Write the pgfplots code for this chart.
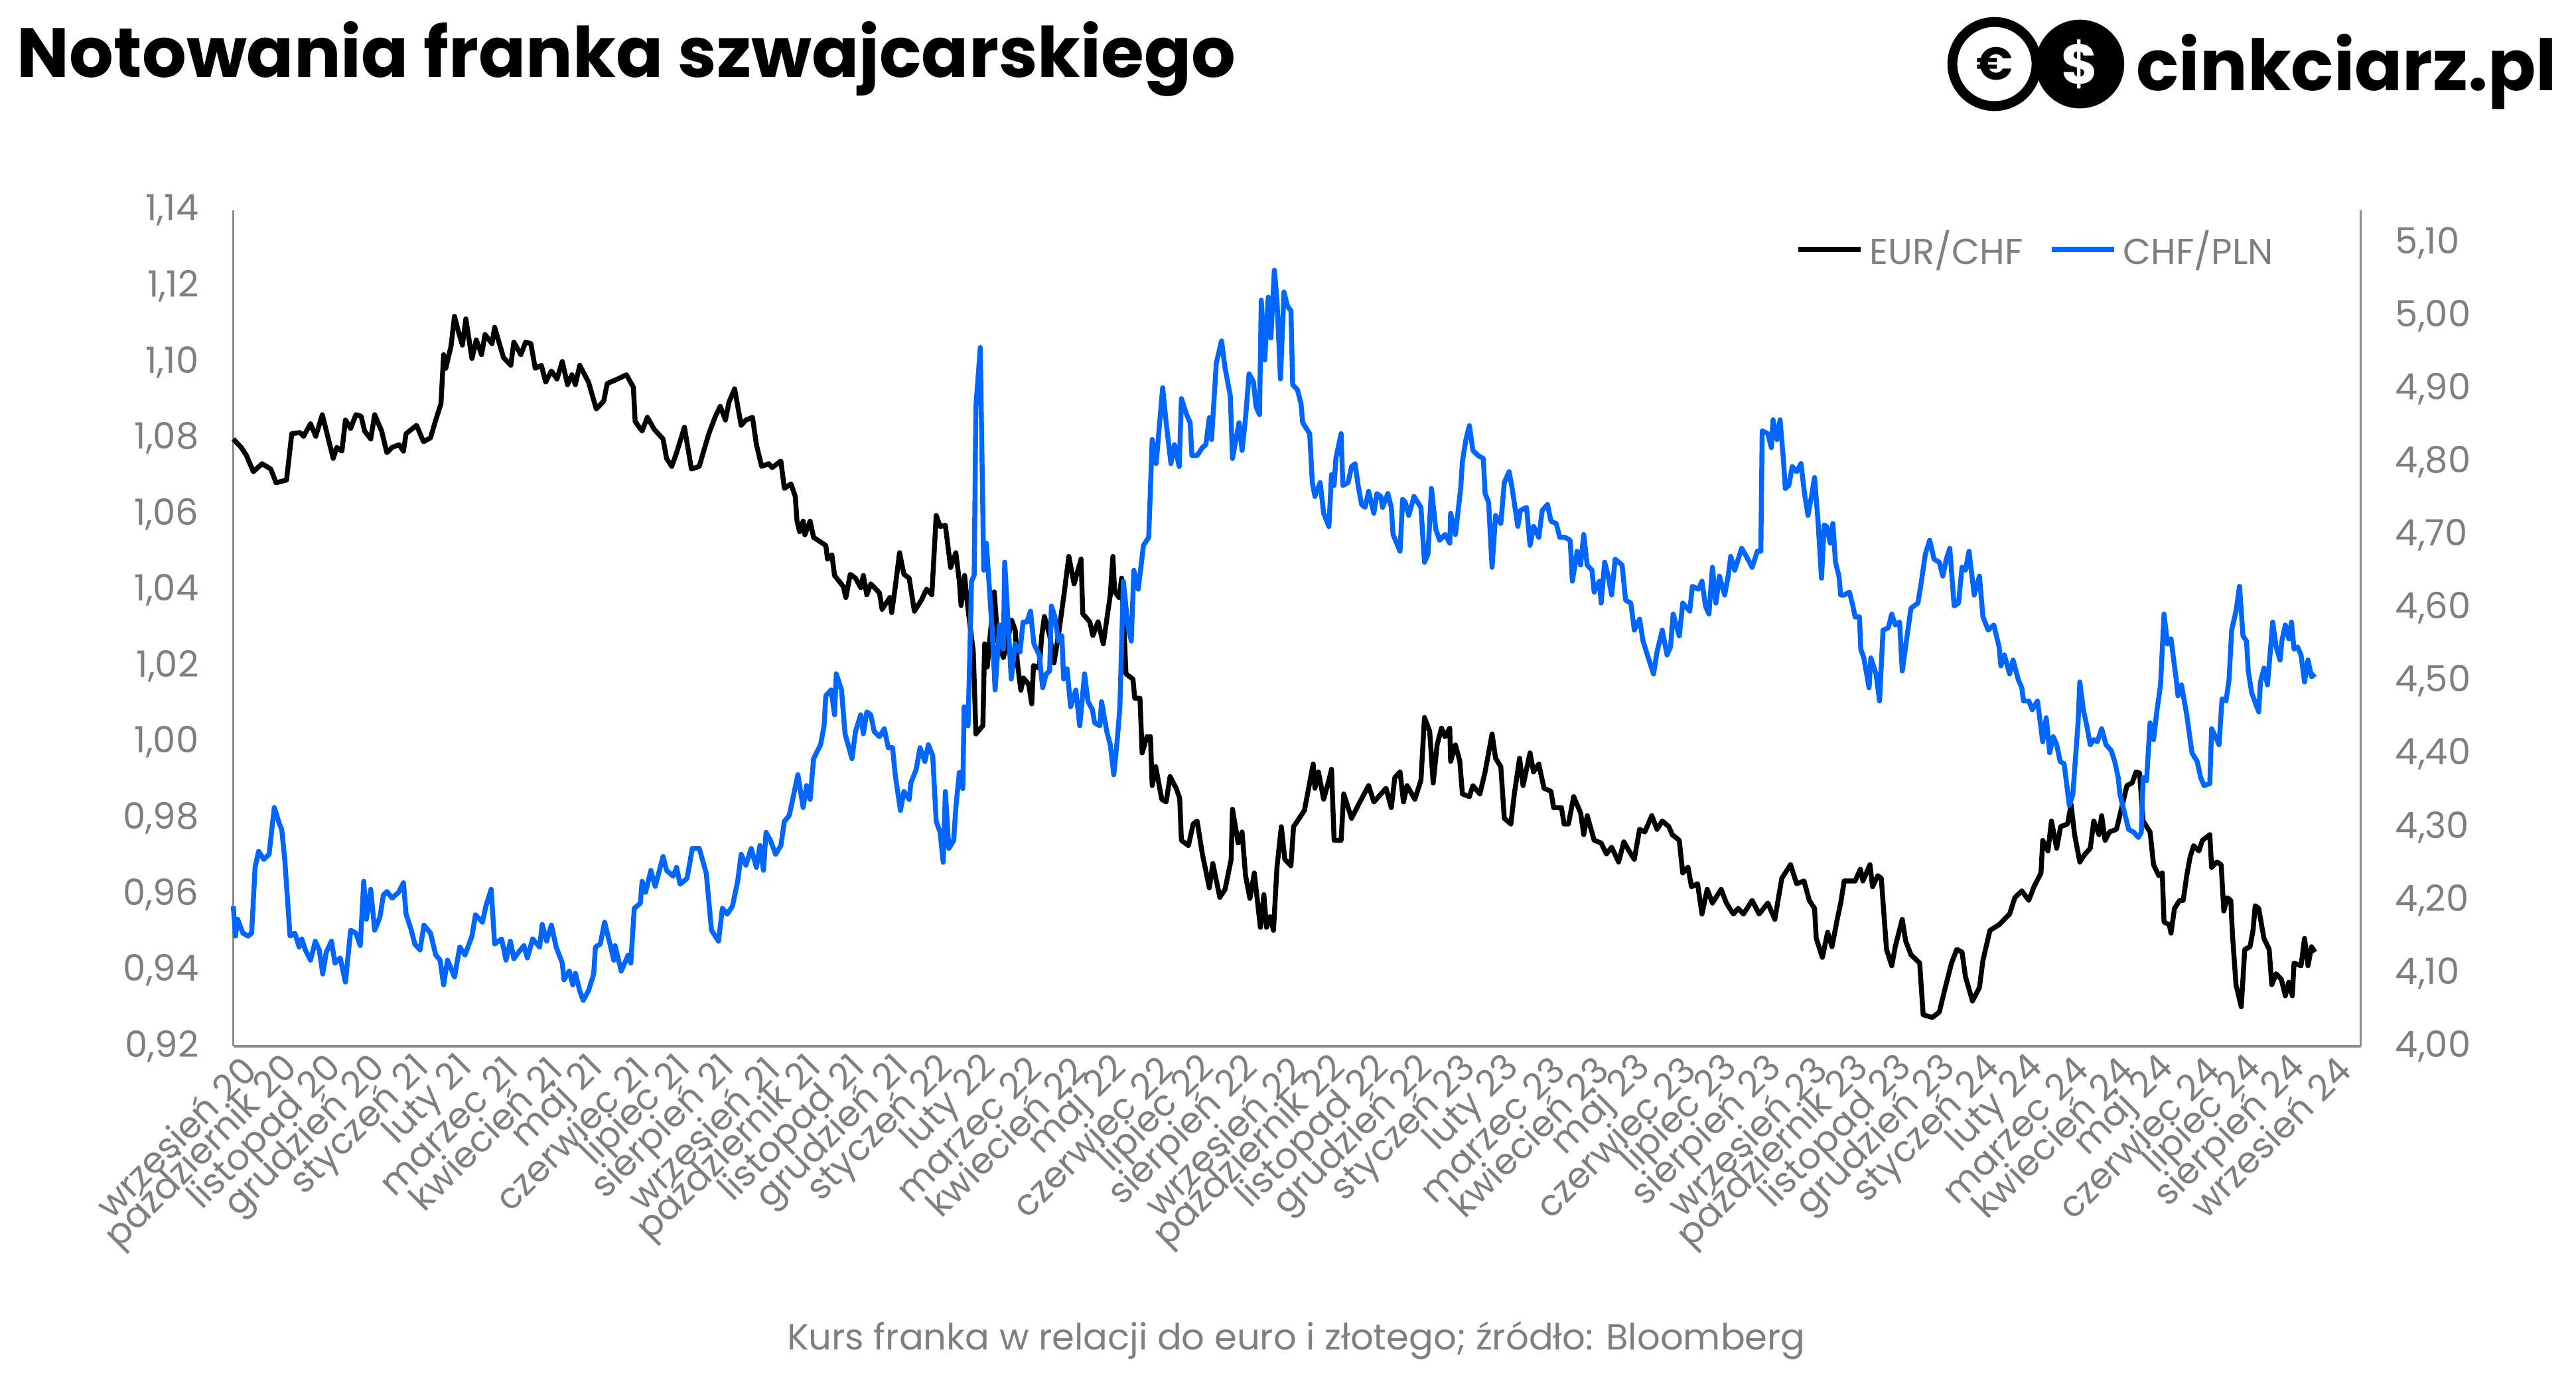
\documentclass[border=0pt]{standalone}
\usepackage{fontspec}
\setmainfont{Poppins}
\usepackage{pgfplots}
\usepackage{pgfplotstable}
\pgfplotsset{compat=1.18}
\definecolor{tickgray}{HTML}{7F7F7F}
\definecolor{axgray}{HTML}{8C8C8C}
\definecolor{chfblue}{HTML}{0066FF}

\pgfplotstableread{
x y
0 1.0798
0.18 1.0776
0.30 1.0755
0.46 1.0712
0.66 1.0733
0.86 1.0719
0.98 1.0683
1.22 1.0690
1.34 1.0812
1.53 1.0815
1.61 1.0805
1.77 1.0838
1.89 1.0805
2.04 1.0862
2.29 1.0747
2.37 1.0776
2.49 1.0766
2.57 1.0848
2.69 1.0826
2.81 1.0862
2.93 1.0858
3.01 1.0819
3.15 1.0798
3.24 1.0862
3.40 1.0819
3.52 1.0762
3.64 1.0776
3.80 1.0783
3.90 1.0766
3.96 1.0812
4.20 1.0834
4.36 1.0791
4.52 1.0801
4.64 1.0848
4.76 1.0891
4.82 1.1020
4.87 1.0984
4.99 1.1042
5.07 1.1121
5.15 1.1085
5.25 1.1045
5.33 1.1114
5.47 1.1010
5.57 1.1059
5.69 1.1020
5.77 1.1073
5.93 1.1049
5.99 1.1092
6.19 1.1013
6.36 1.0992
6.43 1.1053
6.59 1.1020
6.70 1.1053
6.82 1.1049
6.92 1.0984
7.06 1.0992
7.16 1.0948
7.29 1.0977
7.42 1.0956
7.54 1.1002
7.66 1.0941
7.76 1.0967
7.84 1.0941
7.94 1.0992
8.14 1.0948
8.32 1.0877
8.49 1.0898
8.57 1.0944
8.81 1.0956
9.01 1.0967
9.17 1.0934
9.21 1.0844
9.37 1.0819
9.49 1.0855
9.65 1.0823
9.85 1.0798
9.93 1.0747
10.05 1.0726
10.16 1.0762
10.34 1.0829
10.50 1.0719
10.68 1.0726
10.78 1.0766
10.90 1.0812
11.04 1.0855
11.16 1.0884
11.28 1.0848
11.36 1.0895
11.49 1.0930
11.64 1.0834
11.75 1.0848
11.90 1.0855
11.99 1.0783
12.11 1.0726
12.27 1.0733
12.35 1.0723
12.55 1.0740
12.63 1.0668
12.78 1.0680
12.88 1.0647
12.92 1.0582
12.98 1.0554
13.06 1.0582
13.10 1.0546
13.22 1.0582
13.30 1.0539
13.58 1.0518
13.62 1.0482
13.72 1.0493
13.78 1.0439
13.98 1.0410
14.04 1.0381
14.14 1.0442
14.26 1.0432
14.38 1.0407
14.44 1.0439
14.52 1.0388
14.61 1.0417
14.81 1.0393
14.87 1.0350
15.05 1.0381
15.09 1.0341
15.17 1.0407
15.27 1.0499
15.37 1.0442
15.49 1.0432
15.61 1.0345
15.77 1.0374
15.89 1.0403
16.01 1.0388
16.11 1.0597
16.20 1.0568
16.32 1.0571
16.44 1.0460
16.56 1.0499
16.64 1.0424
16.68 1.0360
16.76 1.0439
16.83 1.0360
16.96 1.0238
17.02 1.0022
17.18 1.0044
17.22 1.0259
17.28 1.0198
17.44 1.0396
17.52 1.0266
17.65 1.0223
17.73 1.0259
17.84 1.0321
17.92 1.0295
17.97 1.0209
18.05 1.0137
18.11 1.0169
18.23 1.0152
18.30 1.0101
18.34 1.0202
18.47 1.0195
18.53 1.0281
18.59 1.0331
18.71 1.0281
18.81 1.0209
18.91 1.0281
19.03 1.0381
19.15 1.0489
19.27 1.0417
19.43 1.0482
19.47 1.0338
19.63 1.0317
19.70 1.0281
19.82 1.0317
19.94 1.0259
20.10 1.0388
20.16 1.0489
20.20 1.0396
20.30 1.0381
20.36 1.0432
20.46 1.0180
20.62 1.0166
20.66 1.0116
20.78 1.0116
20.83 0.9972
20.94 1.0015
21.02 1.0015
21.06 0.9886
21.14 0.9936
21.28 0.9850
21.38 0.9843
21.47 0.9910
21.61 0.9879
21.69 0.9853
21.73 0.9742
21.89 0.9728
22.00 0.9785
22.09 0.9793
22.21 0.9706
22.37 0.9617
22.45 0.9681
22.61 0.9592
22.73 0.9613
22.87 0.9692
22.90 0.9824
23.03 0.9735
23.12 0.9764
23.20 0.9649
23.30 0.9589
23.40 0.9656
23.54 0.9513
23.62 0.9599
23.68 0.9513
23.76 0.9541
23.84 0.9505
23.92 0.9671
24.02 0.9778
24.10 0.9692
24.24 0.9675
24.30 0.9778
24.39 0.9793
24.55 0.9821
24.75 0.9943
24.79 0.9879
24.87 0.9922
24.99 0.9850
25.11 0.9900
25.17 0.9929
25.23 0.9742
25.39 0.9742
25.45 0.9864
25.63 0.9800
25.82 0.9843
26.02 0.9886
26.14 0.9843
26.42 0.9879
26.54 0.9828
26.62 0.9907
26.74 0.9922
26.82 0.9843
26.90 0.9886
27.08 0.9850
27.22 0.9900
27.30 1.0065
27.42 1.0029
27.50 0.9893
27.59 0.9993
27.69 1.0037
27.77 1.0015
27.88 1.0037
27.90 0.9950
28.01 0.9993
28.11 0.9950
28.17 0.9864
28.33 0.9857
28.41 0.9886
28.57 0.9864
28.69 0.9922
28.85 1.0022
28.93 0.9958
29.05 0.9936
29.13 0.9800
29.28 0.9785
29.36 0.9864
29.48 0.9958
29.56 0.9886
29.72 0.9972
29.80 0.9922
29.92 0.9943
30.04 0.9879
30.20 0.9871
30.26 0.9828
30.44 0.9828
30.50 0.9785
30.60 0.9785
30.72 0.9857
30.88 0.9814
30.95 0.9757
31.03 0.9807
31.19 0.9742
31.35 0.9735
31.47 0.9706
31.59 0.9724
31.75 0.9685
31.87 0.9738
31.99 0.9714
32.11 0.9692
32.23 0.9771
32.35 0.9764
32.51 0.9807
32.63 0.9771
32.75 0.9793
32.90 0.9778
32.98 0.9757
33.14 0.9742
33.22 0.9656
33.34 0.9671
33.42 0.9620
33.56 0.9628
33.66 0.9548
33.78 0.9613
33.90 0.9577
34.10 0.9613
34.22 0.9577
34.38 0.9548
34.49 0.9563
34.61 0.9548
34.81 0.9584
34.97 0.9548
35.17 0.9577
35.33 0.9534
35.49 0.9642
35.69 0.9678
35.83 0.9628
36.00 0.9635
36.12 0.9584
36.24 0.9563
36.28 0.9484
36.42 0.9434
36.54 0.9500
36.64 0.9462
36.76 0.9534
36.84 0.9577
36.92 0.9635
37.04 0.9635
37.17 0.9635
37.29 0.9666
37.35 0.9635
37.51 0.9678
37.57 0.9620
37.69 0.9649
37.77 0.9642
37.89 0.9455
38.01 0.9412
38.09 0.9462
38.25 0.9534
38.33 0.9477
38.45 0.9441
38.65 0.9419
38.73 0.9283
38.94 0.9276
39.10 0.9290
39.22 0.9347
39.38 0.9419
39.50 0.9455
39.62 0.9448
39.70 0.9383
39.86 0.9319
40.02 0.9355
40.10 0.9426
40.26 0.9505
40.47 0.9520
40.71 0.9548
40.83 0.9591
40.99 0.9609
41.15 0.9584
41.27 0.9620
41.43 0.9656
41.47 0.9742
41.59 0.9714
41.67 0.9793
41.79 0.9721
41.88 0.9778
42.04 0.9785
42.12 0.9836
42.20 0.9757
42.32 0.9685
42.44 0.9706
42.56 0.9721
42.64 0.9793
42.76 0.9757
42.82 0.9807
42.90 0.9742
43.00 0.9764
43.16 0.9771
43.28 0.9828
43.40 0.9886
43.52 0.9893
43.61 0.9922
43.69 0.9919
43.77 0.9793
43.93 0.9764
44.01 0.9678
44.13 0.9649
44.21 0.9656
44.25 0.9527
44.37 0.9520
44.41 0.9498
44.49 0.9563
44.61 0.9584
44.69 0.9584
44.77 0.9649
44.85 0.9699
44.93 0.9728
45.05 0.9714
45.13 0.9742
45.30 0.9757
45.34 0.9671
45.46 0.9685
45.56 0.9678
45.62 0.9556
45.70 0.9591
45.78 0.9584
45.82 0.9491
45.90 0.9362
46.02 0.9304
46.10 0.9455
46.22 0.9462
46.29 0.9505
46.34 0.9570
46.42 0.9563
46.54 0.9484
46.66 0.9455
46.72 0.9362
46.82 0.9391
46.94 0.9376
47.03 0.9333
47.11 0.9369
47.19 0.9333
47.23 0.9419
47.39 0.9412
47.47 0.9484
47.55 0.9412
47.63 0.9462
47.71 0.9448
}\eurchf

\pgfplotstableread{
x y
0 4.192
0.05 4.151
0.10 4.174
0.22 4.155
0.34 4.151
0.42 4.155
0.50 4.245
0.58 4.267
0.70 4.256
0.82 4.263
0.94 4.327
1.06 4.304
1.11 4.297
1.18 4.256
1.30 4.151
1.41 4.155
1.51 4.136
1.57 4.147
1.65 4.132
1.77 4.118
1.88 4.144
1.97 4.132
2.05 4.099
2.13 4.129
2.25 4.144
2.33 4.114
2.45 4.121
2.57 4.088
2.69 4.159
2.81 4.155
2.91 4.138
2.99 4.226
3.05 4.174
3.15 4.215
3.24 4.159
3.36 4.177
3.44 4.207
3.52 4.212
3.64 4.203
3.79 4.211
3.90 4.224
3.96 4.181
4.08 4.159
4.16 4.140
4.28 4.132
4.37 4.166
4.52 4.155
4.64 4.125
4.74 4.118
4.82 4.084
4.91 4.118
5.07 4.095
5.19 4.136
5.31 4.125
5.47 4.151
5.55 4.180
5.71 4.170
5.79 4.192
5.91 4.215
5.99 4.140
6.15 4.147
6.25 4.118
6.35 4.144
6.43 4.120
6.54 4.129
6.66 4.138
6.74 4.121
6.86 4.147
7.02 4.136
7.08 4.167
7.18 4.144
7.29 4.166
7.40 4.136
7.54 4.114
7.58 4.091
7.70 4.103
7.78 4.084
7.84 4.100
7.94 4.076
8.02 4.063
8.14 4.076
8.26 4.099
8.30 4.136
8.41 4.140
8.51 4.170
8.65 4.136
8.72 4.118
8.75 4.138
8.89 4.103
9.05 4.125
9.11 4.114
9.19 4.189
9.33 4.196
9.37 4.226
9.45 4.211
9.57 4.241
9.67 4.219
9.85 4.260
9.93 4.241
10.08 4.233
10.16 4.245
10.24 4.222
10.40 4.230
10.52 4.271
10.68 4.271
10.84 4.237
10.96 4.159
11.12 4.144
11.21 4.189
11.32 4.181
11.44 4.192
11.56 4.226
11.64 4.263
11.75 4.248
11.87 4.271
11.99 4.245
12.07 4.275
12.15 4.241
12.21 4.293
12.31 4.282
12.43 4.263
12.55 4.275
12.63 4.308
12.74 4.316
12.82 4.338
12.94 4.372
13.06 4.327
13.14 4.357
13.22 4.338
13.30 4.394
13.46 4.413
13.54 4.439
13.58 4.480
13.70 4.488
13.78 4.454
13.82 4.510
13.94 4.488
14.02 4.428
14.18 4.394
14.26 4.431
14.38 4.454
14.44 4.428
14.52 4.458
14.61 4.454
14.69 4.431
14.81 4.424
14.92 4.435
15.01 4.409
15.11 4.409
15.17 4.372
15.29 4.323
15.37 4.349
15.49 4.338
15.53 4.361
15.65 4.379
15.74 4.409
15.85 4.390
15.93 4.413
16.03 4.398
16.11 4.308
16.20 4.293
16.27 4.252
16.32 4.349
16.40 4.271
16.51 4.282
16.56 4.327
16.64 4.375
16.72 4.353
16.75 4.465
16.84 4.439
16.92 4.637
16.98 4.645
17.02 4.876
17.12 4.957
17.20 4.652
17.26 4.689
17.40 4.562
17.46 4.488
17.56 4.577
17.65 4.544
17.68 4.663
17.76 4.577
17.83 4.503
17.92 4.551
18.03 4.540
18.10 4.581
18.19 4.581
18.27 4.596
18.35 4.551
18.47 4.536
18.55 4.491
18.63 4.510
18.71 4.514
18.75 4.603
18.83 4.588
18.91 4.555
18.99 4.562
19.03 4.503
19.11 4.517
19.19 4.465
19.31 4.488
19.40 4.439
19.51 4.510
19.59 4.472
19.69 4.461
19.74 4.443
19.86 4.439
19.90 4.472
20.02 4.431
20.10 4.413
20.18 4.372
20.26 4.420
20.32 4.465
20.40 4.637
20.50 4.577
20.58 4.555
20.64 4.652
20.74 4.626
20.86 4.686
20.98 4.697
21.06 4.831
21.15 4.798
21.22 4.846
21.30 4.902
21.38 4.854
21.49 4.798
21.57 4.824
21.68 4.794
21.73 4.887
21.85 4.865
21.93 4.854
21.97 4.809
22.09 4.809
22.21 4.820
22.29 4.824
22.37 4.861
22.42 4.831
22.53 4.936
22.65 4.966
22.73 4.929
22.85 4.891
22.90 4.805
23.05 4.854
23.12 4.816
23.20 4.861
23.28 4.921
23.38 4.910
23.44 4.876
23.52 4.865
23.56 5.022
23.64 4.940
23.72 5.026
23.78 4.970
23.86 5.063
23.92 5.022
24.00 4.914
24.08 5.033
24.16 5.014
24.24 5.007
24.28 4.906
24.39 4.899
24.47 4.880
24.51 4.854
24.67 4.839
24.73 4.772
24.79 4.753
24.91 4.772
24.99 4.730
25.11 4.712
25.17 4.783
25.23 4.768
25.27 4.805
25.39 4.839
25.43 4.768
25.55 4.772
25.63 4.794
25.71 4.798
25.78 4.768
25.86 4.742
25.94 4.738
26.02 4.760
26.14 4.730
26.21 4.757
26.30 4.753
26.34 4.738
26.46 4.757
26.54 4.738
26.58 4.701
26.74 4.678
26.80 4.749
26.86 4.745
26.94 4.727
27.06 4.753
27.22 4.738
27.30 4.663
27.38 4.674
27.46 4.764
27.56 4.708
27.65 4.693
27.77 4.701
27.88 4.689
27.90 4.730
28.01 4.701
28.13 4.764
28.17 4.801
28.25 4.831
28.33 4.850
28.41 4.816
28.53 4.809
28.65 4.805
28.69 4.757
28.77 4.745
28.85 4.656
28.93 4.727
29.05 4.716
29.13 4.772
29.24 4.787
29.31 4.764
29.44 4.712
29.50 4.734
29.64 4.738
29.72 4.686
29.80 4.712
29.92 4.697
30.00 4.734
30.12 4.742
30.20 4.719
30.32 4.716
30.40 4.697
30.52 4.697
30.64 4.693
30.69 4.637
30.80 4.678
30.88 4.659
30.95 4.701
31.03 4.659
31.14 4.652
31.19 4.622
31.31 4.637
31.35 4.607
31.43 4.663
31.51 4.644
31.59 4.618
31.67 4.667
31.83 4.659
31.91 4.611
32.03 4.607
32.11 4.570
32.23 4.585
32.31 4.555
32.43 4.532
32.55 4.510
32.63 4.540
32.75 4.570
32.86 4.536
32.94 4.547
33.00 4.592
33.14 4.562
33.22 4.607
33.38 4.596
33.44 4.630
33.58 4.626
33.66 4.637
33.74 4.603
33.82 4.592
33.90 4.656
33.98 4.607
34.06 4.644
34.18 4.618
34.26 4.644
34.32 4.671
34.41 4.652
34.57 4.682
34.65 4.674
34.81 4.656
34.93 4.678
35.01 4.678
35.04 4.843
35.17 4.839
35.25 4.820
35.29 4.858
35.38 4.831
35.45 4.858
35.53 4.801
35.57 4.764
35.65 4.768
35.73 4.794
35.83 4.787
35.93 4.798
36.01 4.757
36.09 4.727
36.17 4.753
36.24 4.779
36.32 4.719
36.40 4.641
36.46 4.714
36.52 4.712
36.60 4.689
36.66 4.716
36.72 4.663
36.80 4.644
36.84 4.618
36.92 4.618
37.04 4.622
37.12 4.603
37.17 4.588
37.27 4.588
37.30 4.544
37.37 4.532
37.49 4.491
37.53 4.532
37.65 4.510
37.73 4.473
37.81 4.570
37.93 4.573
38.01 4.592
38.09 4.577
38.19 4.581
38.25 4.514
38.37 4.566
38.45 4.600
38.61 4.607
38.69 4.637
38.78 4.674
38.88 4.693
38.98 4.667
39.10 4.663
39.18 4.644
39.26 4.667
39.34 4.682
39.44 4.603
39.54 4.607
39.62 4.656
39.70 4.652
39.78 4.678
39.90 4.618
40.02 4.644
40.10 4.588
40.22 4.570
40.35 4.577
40.47 4.547
40.51 4.521
40.59 4.536
40.71 4.510
40.79 4.529
40.91 4.502
40.99 4.491
41.03 4.473
41.15 4.473
41.23 4.461
41.35 4.473
41.47 4.417
41.55 4.450
41.63 4.402
41.71 4.424
41.79 4.413
41.87 4.390
41.96 4.387
42.08 4.330
42.16 4.345
42.28 4.443
42.32 4.499
42.40 4.461
42.48 4.439
42.56 4.413
42.64 4.420
42.72 4.417
42.82 4.435
42.92 4.413
43.04 4.405
43.12 4.390
43.20 4.368
43.24 4.345
43.36 4.316
43.44 4.297
43.56 4.293
43.66 4.286
43.73 4.293
43.77 4.368
43.85 4.364
43.93 4.443
44.01 4.420
44.09 4.461
44.17 4.495
44.25 4.592
44.33 4.551
44.41 4.558
44.53 4.502
44.57 4.480
44.65 4.495
44.77 4.454
44.89 4.402
45.01 4.390
45.09 4.368
45.17 4.357
45.30 4.360
45.34 4.435
45.43 4.424
45.51 4.413
45.58 4.476
45.67 4.473
45.74 4.502
45.80 4.570
45.90 4.596
45.98 4.630
46.06 4.562
46.14 4.555
46.18 4.514
46.26 4.484
46.42 4.458
46.46 4.499
46.54 4.518
46.62 4.495
46.70 4.551
46.74 4.581
46.82 4.547
46.91 4.529
46.95 4.555
47.03 4.577
47.11 4.558
47.17 4.581
47.23 4.544
47.31 4.547
47.39 4.536
47.47 4.499
47.55 4.529
47.63 4.506
47.71 4.510
}\chfpln

\begin{document}
\begin{tikzpicture}[x=1pt,y=1pt]
\path[use as bounding box] (0,0) rectangle (784,420);
% title
\node[anchor=base west, inner sep=0pt, font=\bfseries\fontsize{21.2}{24}\selectfont] at (5,396.5) {Notowania franka szwajcarskiego};
% logo
\fill[black] (633,400.5) circle (13.5);
\node[text=white, inner sep=0pt, font=\bfseries\fontsize{17}{17}\selectfont] at (633,400.5) {\$};
\draw[black, fill=white, line width=3pt] (607,400.5) circle (12.8);
\node[inner sep=0pt, font=\bfseries\fontsize{14}{14}\selectfont] at (607,400.5) {€};
\node[anchor=base west, inner sep=0pt, font=\bfseries\fontsize{21.5}{24}\selectfont] at (650,392.5) {cinkciarz.pl};
% footer
\node[text=tickgray, font=\fontsize{11}{13}\selectfont] at (394.5,12) {Kurs franka w relacji do euro i złotego; źródło: Bloomberg};

\begin{axis}[
  at={(71pt,101.5pt)}, anchor=south west,
  scale only axis, width=647.5pt, height=254.5pt,
  xmin=0, xmax=48.76, ymin=0.92, ymax=1.14,
  axis x line*=bottom, axis y line*=left,
  x axis line style={-, draw=axgray, line width=0.9pt},
  y axis line style={-, draw=axgray, line width=0.5pt},
  major tick length=0pt,
  xtick={0,1,...,48},
  xticklabels={wrzesień 20,październik 20,listopad 20,grudzień 20,styczeń 21,luty 21,marzec 21,kwiecień 21,maj 21,czerwiec 21,lipiec 21,sierpień 21,wrzesień 21,październik 21,listopad 21,grudzień 21,styczeń 22,luty 22,marzec 22,kwiecień 22,maj 22,czerwiec 22,lipiec 22,sierpień 22,wrzesień 22,październik 22,listopad 22,grudzień 22,styczeń 23,luty 23,marzec 23,kwiecień 23,maj 23,czerwiec 23,lipiec 23,sierpień 23,wrzesień 23,październik 23,listopad 23,grudzień 23,styczeń 24,luty 24,marzec 24,kwiecień 24,maj 24,czerwiec 24,lipiec 24,sierpień 24,wrzesień 24},
  xticklabel style={rotate=45, anchor=east, text=tickgray, font=\fontsize{11}{12}\selectfont, inner sep=1pt, yshift=-7pt, xshift=1pt},
  ytick={0.92,0.94,0.96,0.98,1.00,1.02,1.04,1.06,1.08,1.10,1.12,1.14},
  yticklabel style={text=tickgray, font=\fontsize{11}{12}\selectfont, xshift=-7pt,
    /pgf/number format/.cd, fixed, fixed zerofill, precision=2, use comma, assume math mode=true},
  clip=false,
]
\addplot[black, line width=1.5pt, line join=round, mark=none] table[x=x,y=y] {\eurchf};
\end{axis}

\begin{axis}[
  at={(71pt,101.5pt)}, anchor=south west,
  scale only axis, width=647.5pt, height=254.5pt,
  xmin=0, xmax=48.76, ymin=4.0, ymax=5.145,
  hide x axis,
  axis y line*=right,
  y axis line style={-, draw=axgray, line width=0.5pt},
  major tick length=0pt,
  ytick={4.0,4.1,4.2,4.3,4.4,4.5,4.6,4.7,4.8,4.9,5.0,5.1},
  yticklabel style={text=tickgray, font=\fontsize{11}{12}\selectfont, xshift=7pt,
    /pgf/number format/.cd, fixed, fixed zerofill, precision=2, use comma, assume math mode=true},
  legend style={at={(0.967,0.953)}, anchor=east, draw=none, fill=none,
    font=\fontsize{11}{12}\selectfont, text=tickgray,
    /tikz/every even column/.append style={column sep=6pt}},
  legend columns=2,
  legend image code/.code={\draw[#1, line width=1.5pt] (0pt,0pt) -- (19pt,0pt);},
  clip=false,
]
\addlegendimage{black}
\addlegendentry{EUR/CHF}
\addplot[chfblue, line width=1.5pt, line join=round, mark=none] table[x=x,y=y] {\chfpln};
\addlegendentry{CHF/PLN}
\end{axis}
\end{tikzpicture}
\end{document}
